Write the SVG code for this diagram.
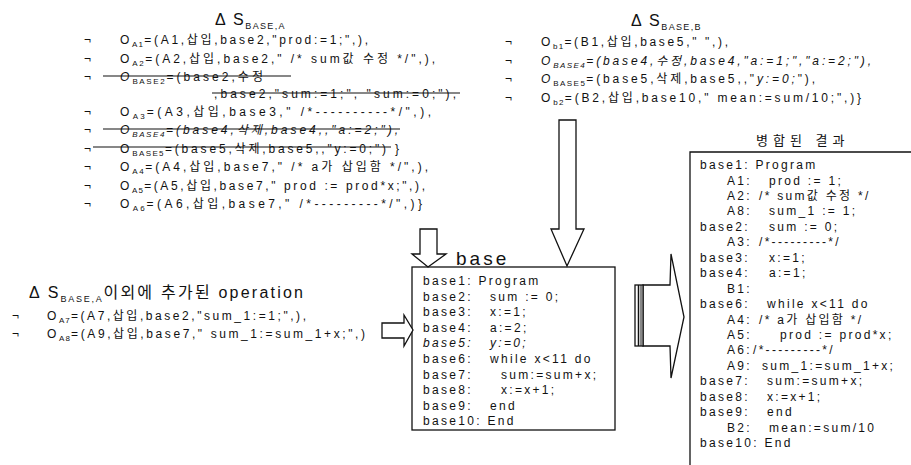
<svg xmlns="http://www.w3.org/2000/svg" width="911" height="465" viewBox="0 0 911 465">
<style>
text{font-family:"Liberation Sans","Noto Sans CJK KR",sans-serif;fill:#111}
.op{font-size:12px;letter-spacing:2px}
.sub{font-size:8px;letter-spacing:0.6px}
.ttl{font-size:16px;letter-spacing:1px}
.tsub{font-size:9px;letter-spacing:0.5px}
.cd{font-size:12px;letter-spacing:2.3px}
.it{font-style:italic}
.neg{font-size:12px}
.strike{stroke:#111;stroke-width:1.2}
.arrow{fill:#fff;stroke:#111;stroke-width:1.3;stroke-linejoin:miter}
.box{fill:#fff;stroke:#111;stroke-width:1.3}
</style>
<rect width="911" height="465" fill="#fff"/>

<g id="deltaA">
<text class="ttl" x="215" y="25" textLength="70" lengthAdjust="spacing">Δ S<tspan class="tsub" dy="4">BASE,A</tspan></text>
<text class="neg" x="84" y="44">¬</text>
<text class="op" x="120" y="44" textLength="250" lengthAdjust="spacing">O<tspan class="sub" dy="3">A1</tspan><tspan dy="-3">=(A1,삽입,base2,"prod:=1;",),</tspan></text>
<text class="neg" x="84" y="63">¬</text>
<text class="op" x="120" y="63" textLength="317" lengthAdjust="spacing">O<tspan class="sub" dy="3">A2</tspan><tspan dy="-3">=(A2,삽입,base2," /* sum값 수정 */",),</tspan></text>
<text class="neg" x="84" y="81">¬</text>
<text class="op" x="120" y="81" textLength="145" lengthAdjust="spacing"><tspan class="it">O</tspan><tspan class="sub" dy="3">BASE2</tspan><tspan dy="-3">=(base2,수정</tspan></text>
<line class="strike" x1="103" y1="76" x2="291" y2="76"/>
<text class="op" x="214" y="98" textLength="244" lengthAdjust="spacing">,base2,"sum:=1;", "sum:=0;"),</text>
<line class="strike" x1="212" y1="93" x2="460" y2="93"/>
<text class="neg" x="84" y="116">¬</text>
<text class="op" x="120" y="116" textLength="313" lengthAdjust="spacing">O<tspan class="sub" dy="3">A3</tspan><tspan dy="-3">=(A3,삽입,base3," /*----------*/",),</tspan></text>
<text class="neg" x="84" y="134">¬</text>
<text class="op it" x="120" y="134" textLength="280" lengthAdjust="spacing">O<tspan class="sub" dy="3">BASE4</tspan><tspan dy="-3">=(base4,삭제,base4,,"a:=2;"),</tspan></text>
<line class="strike" x1="103" y1="129" x2="400" y2="129"/>
<text class="neg" x="84" y="153">¬</text>
<text class="op" x="120" y="153" textLength="281" lengthAdjust="spacing">O<tspan class="sub" dy="3">BASE5</tspan><tspan dy="-3">=(base5,삭제,base5,,"y:=0;") }</tspan></text>
<line class="strike" x1="93" y1="147" x2="391" y2="147"/>
<text class="neg" x="84" y="171">¬</text>
<text class="op" x="120" y="171" textLength="310" lengthAdjust="spacing">O<tspan class="sub" dy="3">A4</tspan><tspan dy="-3">=(A4,삽입,base7," /* a가 삽입함 */",),</tspan></text>
<text class="neg" x="84" y="190">¬</text>
<text class="op" x="120" y="190" textLength="307" lengthAdjust="spacing">O<tspan class="sub" dy="3">A5</tspan><tspan dy="-3">=(A5,삽입,base7," prod := prod*x;",),</tspan></text>
<text class="neg" x="84" y="208">¬</text>
<text class="op" x="120" y="208" textLength="304" lengthAdjust="spacing">O<tspan class="sub" dy="3">A6</tspan><tspan dy="-3">=(A6,삽입,base7," /*---------*/",)}</tspan></text>
</g>

<g id="deltaB">
<text class="ttl" x="631" y="26" textLength="70" lengthAdjust="spacing">Δ S<tspan class="tsub" dy="4">BASE,B</tspan></text>
<text class="neg" x="505" y="46">¬</text>
<text class="op" x="541" y="46" textLength="189" lengthAdjust="spacing">O<tspan class="sub" dy="3">b1</tspan><tspan dy="-3">=(B1,삽입,base5," ",),</tspan></text>
<text class="neg" x="505" y="65">¬</text>
<text class="op it" x="541" y="65" textLength="332" lengthAdjust="spacing">O<tspan class="sub" dy="3">BASE4</tspan><tspan dy="-3">=(base4,수정,base4,"a:=1;","a:=2;"),</tspan></text>
<text class="neg" x="505" y="83">¬</text>
<text class="op" x="541" y="83" textLength="276" lengthAdjust="spacing"><tspan class="it">O</tspan><tspan class="sub" dy="3">BASE5</tspan><tspan dy="-3">=(base5,삭제,base5,,"<tspan class="it">y:=0;</tspan>"),</tspan></text>
<text class="neg" x="505" y="102">¬</text>
<text class="op" x="541" y="102" textLength="322" lengthAdjust="spacing">O<tspan class="sub" dy="3">b2</tspan><tspan dy="-3">=(B2,삽입,base10," mean:=sum/10;",)}</tspan></text>
</g>

<g id="extraA">
<text class="ttl" x="29" y="298" textLength="275" lengthAdjust="spacing">Δ S<tspan class="tsub" dy="4">BASE,A</tspan><tspan dy="-4">이외에 추가된 operation</tspan></text>
<text class="neg" x="12" y="320">¬</text>
<text class="op" x="47" y="320" textLength="261" lengthAdjust="spacing">O<tspan class="sub" dy="3">A7</tspan><tspan dy="-3">=(A7,삽입,base2,"sum_1:=1;",),</tspan></text>
<text class="neg" x="12" y="338">¬</text>
<text class="op" x="47" y="338" textLength="320" lengthAdjust="spacing">O<tspan class="sub" dy="3">A8</tspan><tspan dy="-3">=(A9,삽입,base7," sum_1:=sum_1+x;",)</tspan></text>
</g>

<g id="base">
<text x="456" y="265" style="font-size:19px;letter-spacing:3px">base</text>
<rect class="box" x="412" y="267" width="203" height="163"/>
<text class="cd" x="423" y="285">base1: Program</text>
<text class="cd" x="423" y="300.6">base2:</text><text class="cd" x="490" y="300.6">sum := 0;</text>
<text class="cd" x="423" y="316.2">base3:</text><text class="cd" x="490" y="316.2">x:=1;</text>
<text class="cd" x="423" y="331.8">base4:</text><text class="cd" x="490" y="331.8">a:=2;</text>
<text class="cd it" x="423" y="347.4">base5:</text><text class="cd it" x="490" y="347.4">y:=0;</text>
<text class="cd" x="423" y="363">base6:</text><text class="cd" x="490" y="363">while x&lt;11 do</text>
<text class="cd" x="423" y="378.6">base7:</text><text class="cd" x="501" y="378.6">sum:=sum+x;</text>
<text class="cd" x="423" y="394.2">base8:</text><text class="cd" x="501" y="394.2">x:=x+1;</text>
<text class="cd" x="423" y="409.8">base9:</text><text class="cd" x="490" y="409.8">end</text>
<text class="cd" x="423" y="425.4">base10: End</text>
</g>

<g id="result">
<text x="756" y="145" style="font-size:13px;letter-spacing:5px">병합된 결과</text>
<path d="M911,152 H690 V465" fill="none" stroke="#111" stroke-width="1.3"/>
<text class="cd" x="700" y="169">base1: Program</text>
<text class="cd" x="727" y="184.5">A1:</text><text class="cd" x="769" y="184.5">prod := 1;</text>
<text class="cd" x="727" y="199.9">A2:</text><text class="cd" x="759" y="199.9">/* sum값 수정 */</text>
<text class="cd" x="727" y="215.4">A8:</text><text class="cd" x="769" y="215.4">sum_1 := 1;</text>
<text class="cd" x="700" y="230.8">base2:</text><text class="cd" x="769" y="230.8">sum := 0;</text>
<text class="cd" x="727" y="246.3">A3:</text><text class="cd" x="759" y="246.3">/*---------*/</text>
<text class="cd" x="700" y="261.7">base3:</text><text class="cd" x="769" y="261.7">x:=1;</text>
<text class="cd" x="700" y="277.2">base4:</text><text class="cd" x="769" y="277.2">a:=1;</text>
<text class="cd" x="727" y="292.6">B1:</text>
<text class="cd" x="700" y="308.1">base6:</text><text class="cd" x="767" y="308.1">while x&lt;11 do</text>
<text class="cd" x="727" y="323.5">A4:</text><text class="cd" x="759" y="323.5">/* a가 삽입함 */</text>
<text class="cd" x="727" y="339">A5:</text><text class="cd" x="780" y="339">prod := prod*x;</text>
<text class="cd" x="727" y="354.4">A6:</text><text class="cd" x="753" y="354.4">/*---------*/</text>
<text class="cd" x="727" y="369.9">A9:</text><text class="cd" x="762" y="369.9">sum_1:=sum_1+x;</text>
<text class="cd" x="700" y="385.3">base7:</text><text class="cd" x="767" y="385.3">sum:=sum+x;</text>
<text class="cd" x="700" y="400.8">base8:</text><text class="cd" x="767" y="400.8">x:=x+1;</text>
<text class="cd" x="700" y="416.2">base9:</text><text class="cd" x="767" y="416.2">end</text>
<text class="cd" x="727" y="431.7">B2:</text><text class="cd" x="769" y="431.7">mean:=sum/10</text>
<text class="cd" x="700" y="447.1">base10: End</text>
</g>

<g id="connectors">
<polygon class="arrow" points="559,120 576,120 576,229 584,229 567,266 551,229 559,229"/>
<polygon class="arrow" points="420,229 437,229 437,254 446,254 428,267 412,254 420,254"/>
<polygon class="arrow" points="382,323 404,323 404,315 413,330 404,346 404,338 382,338"/>
<polygon class="arrow" points="643,285 670,285 671,254 684,317 671,378 670,346 643,346"/>
<rect x="635" y="285" width="8" height="61" fill="#fff" stroke="#111" stroke-width="1.3"/>
<line x1="638.5" y1="285" x2="638.5" y2="346" stroke="#111" stroke-width="1.5"/>
<line x1="641" y1="285" x2="641" y2="346" stroke="#111" stroke-width="1"/>
</g>
</svg>
